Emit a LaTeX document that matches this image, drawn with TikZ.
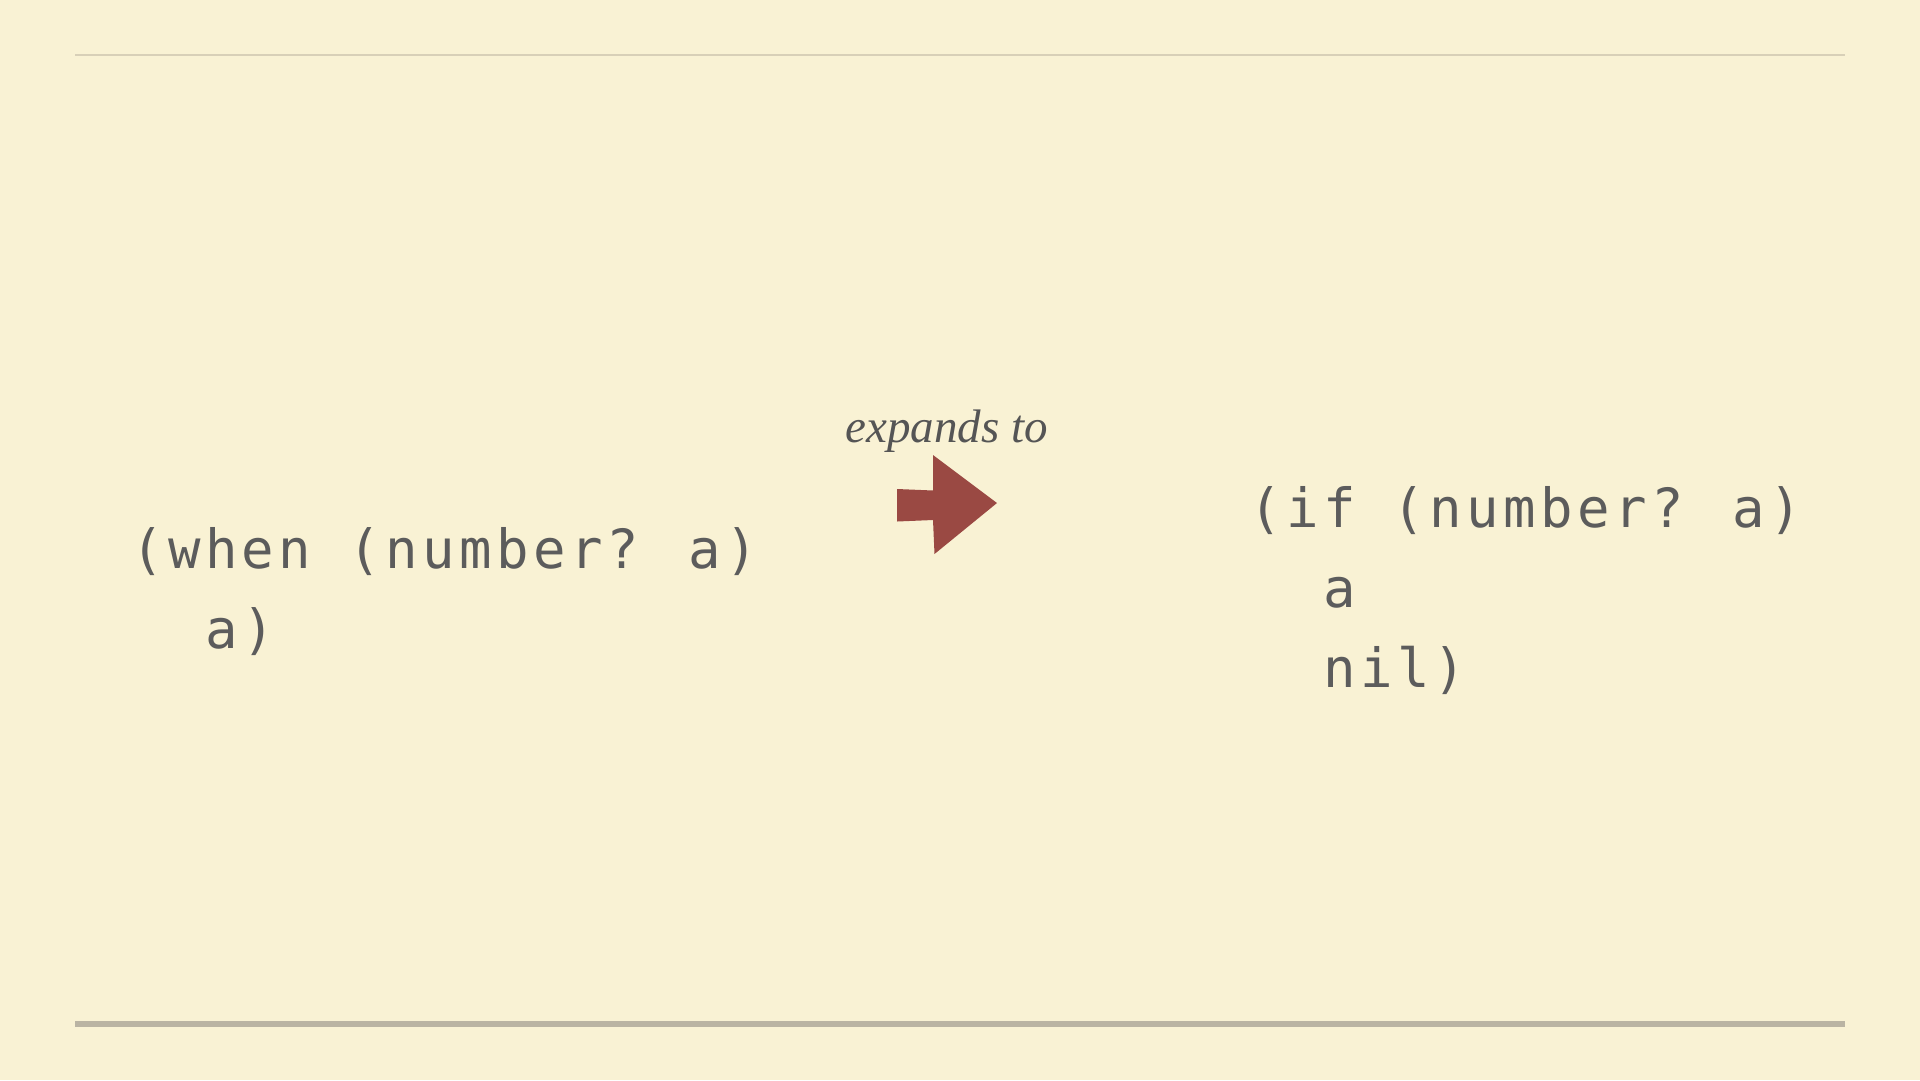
\documentclass[tikz,border=0pt]{standalone}
\usepackage{fontspec}
\newfontfamily\codefont{DejaVu Sans Mono}[LetterSpace=8.2]
\newfontfamily\labelfont{Liberation Serif}
\definecolor{paper}{RGB}{249,242,212}
\definecolor{codegray}{RGB}{92,92,92}
\definecolor{labelgray}{RGB}{85,85,85}
\definecolor{arrowred}{RGB}{154,73,67}
\definecolor{toprule}{RGB}{216,208,184}
\definecolor{botrule}{RGB}{186,180,163}
\begin{document}
\begin{tikzpicture}[x=1pt,y=-1pt,
  code/.style={anchor=base west, inner sep=0pt, text=codegray,
    font=\codefont\fontsize{54}{54}\selectfont},
  lbl/.style={anchor=base, inner sep=0pt, text=labelgray,
    font=\labelfont\itshape\fontsize{47}{47}\selectfont}]
\useasboundingbox (0,0) rectangle (1920,1080);
\fill[paper] (0,0) rectangle (1920,1080);
\draw[toprule, line width=2pt] (75,55.3) -- (1845,55.3);
\draw[botrule, line width=5.7pt] (75,1023.8) -- (1845,1023.8);
% left code
\node[code] (w1) at (131,568) {(when (number? a)};
\node[code] (w2) at (205,648) {a)};
% right code
\node[code] (i1) at (1249,527) {(if (number? a)};
\node[code] (i2) at (1323,607) {a};
\node[code] (i3) at (1323,687) {nil)};
% label and arrow
\node[lbl] (exp) at (946.5,442) {expands to};
\fill[arrowred] (897,489) -- (933,490.5) -- (933,455) -- (997,503) -- (934.5,554)
  -- (933,520) -- (897,521.5) -- cycle;
\end{tikzpicture}
\end{document}
